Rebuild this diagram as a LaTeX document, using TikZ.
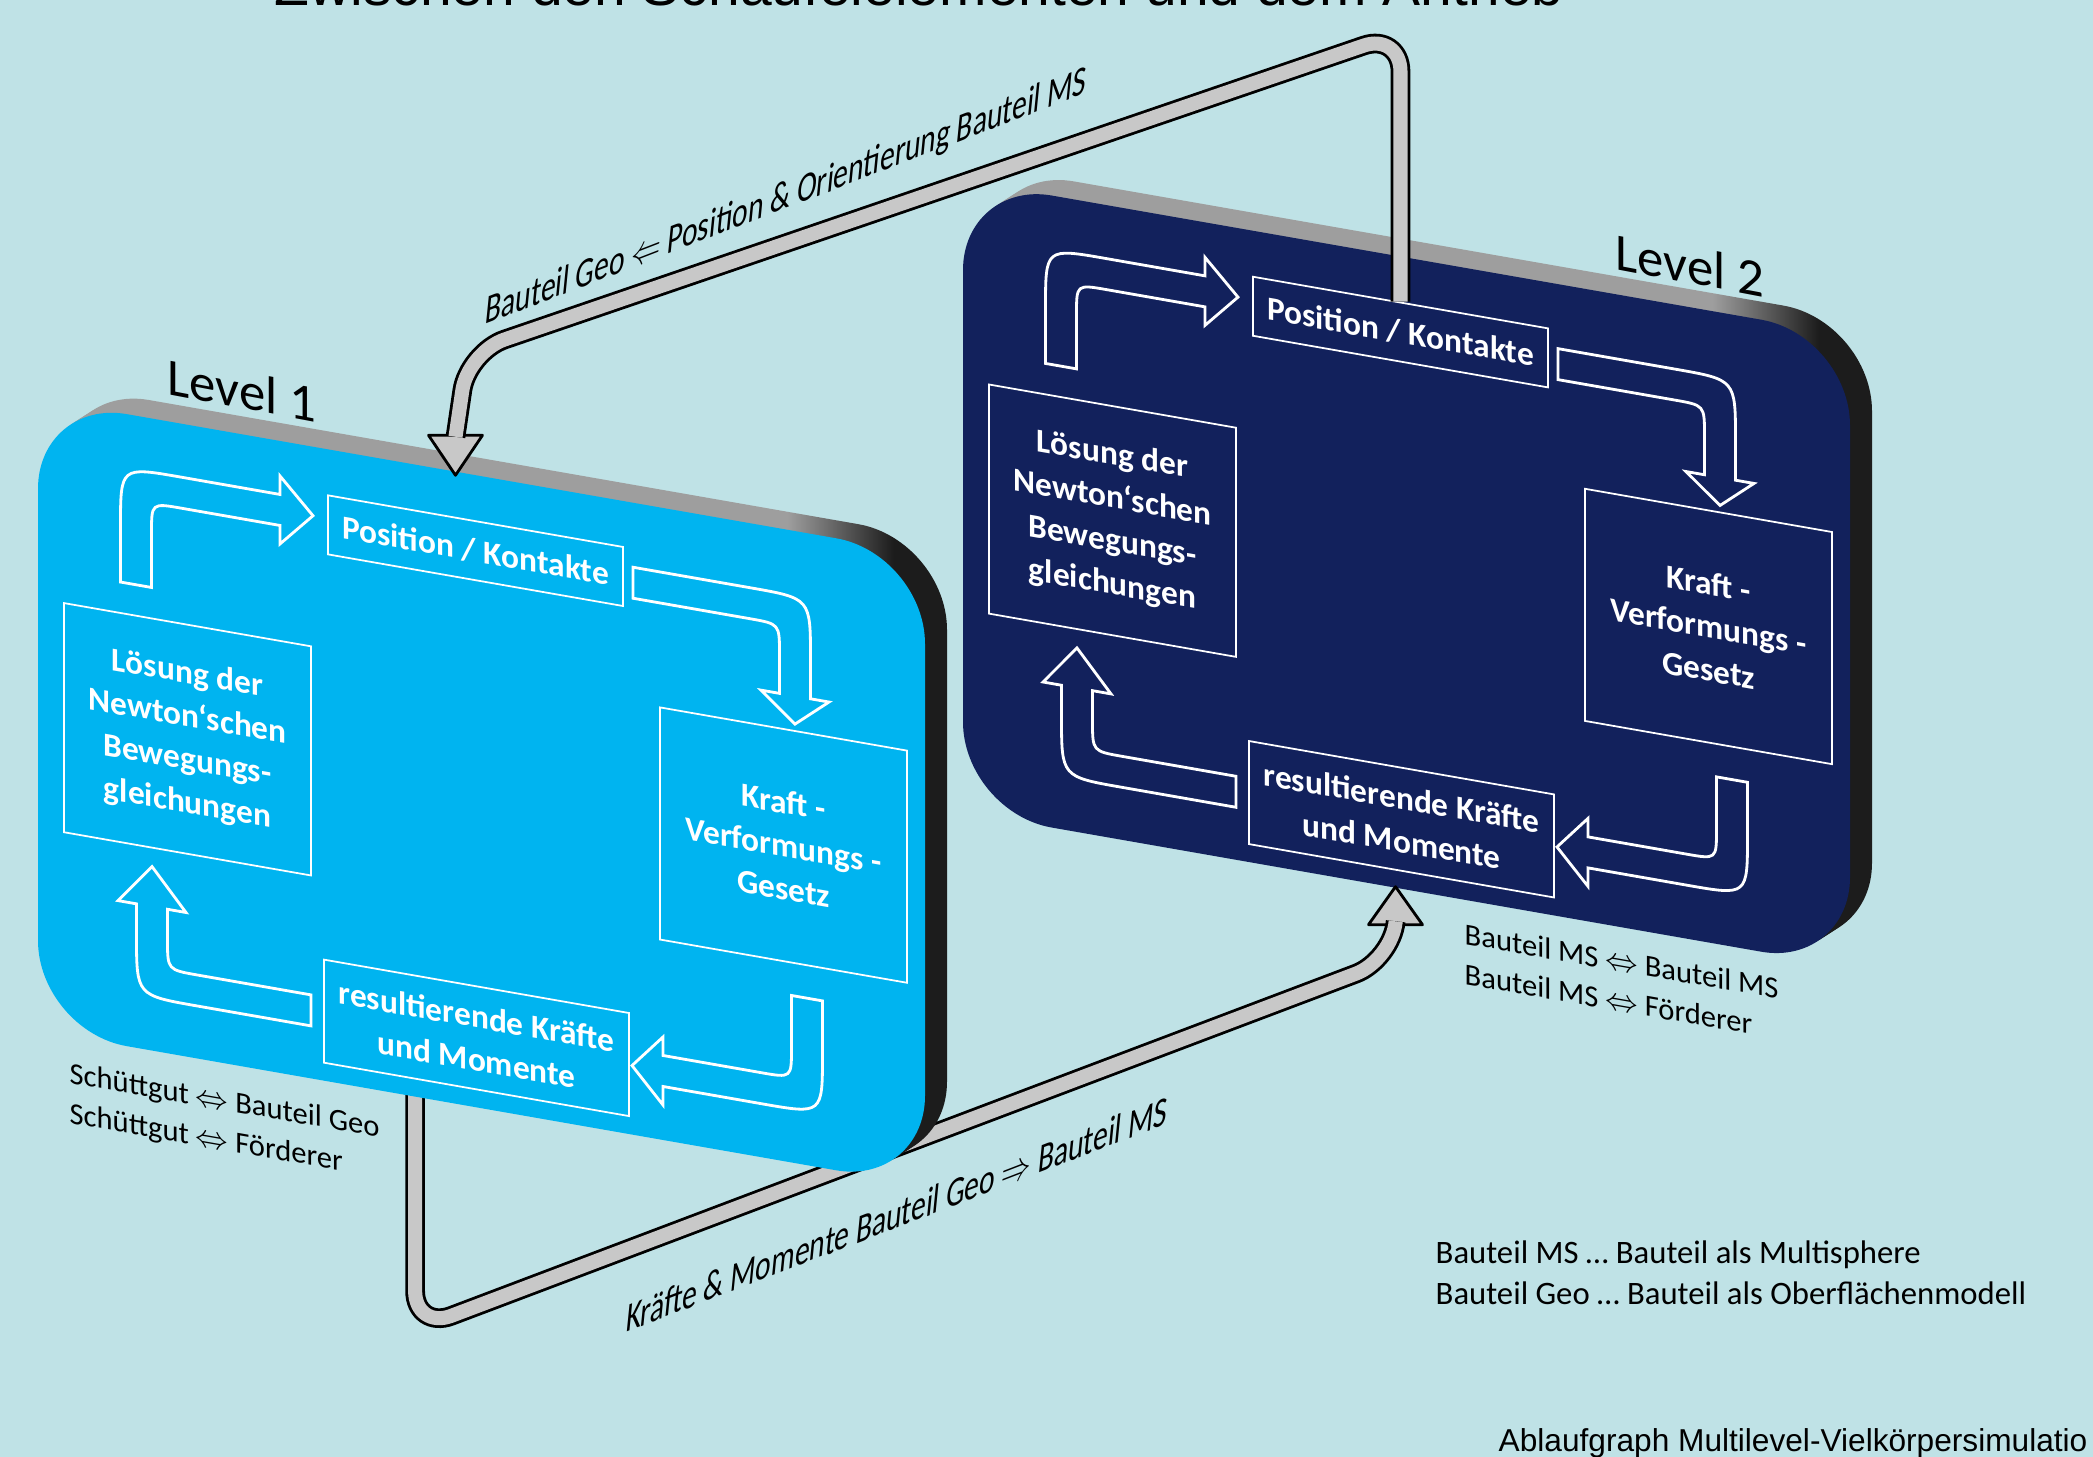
\documentclass[tikz,border=0pt]{standalone}
\usepackage{fontspec}
\setmainfont{Carlito}
\newfontfamily\arialfont{Liberation Sans}
\usepackage{tikz}
\usetikzlibrary{calc}

\definecolor{bgblue}{RGB}{191,226,230}
\definecolor{lvlone}{RGB}{0,180,240}
\definecolor{lvltwo}{RGB}{18,33,92}
\definecolor{slabgray}{RGB}{158,158,158}
\definecolor{slabdark}{RGB}{28,28,28}
\definecolor{pipegray}{RGB}{200,200,200}

\pgfdeclarehorizontalshading{slab}{100bp}{color(0bp)=(slabgray); color(66bp)=(slabgray); color(72bp)=(slabdark); color(100bp)=(slabdark)}
\pgfdeclarelayer{back}
\pgfdeclarelayer{front}
\pgfsetlayers{back,main,front}

\begin{document}
\begin{tikzpicture}[x=0.01cm, y=-0.01cm,
  box/.style={draw=white, line width=0.5pt, text=white, align=center, inner sep=0pt,
    font=\bfseries\fontsize{9.5}{12.3}\selectfont, transform shape},
  flow/.style={draw=white, line width=0.8pt},
  pipe/.style={draw=black, line width=0.8pt, double=pipegray, double distance=4pt, rounded corners=11pt},
  pipehead/.style={draw=black, line width=0.8pt, fill=pipegray, line join=round},
  pipelabel/.style={font=\fontsize{12}{14}\selectfont, inner sep=0pt, cm={0.7,0.27,0.1,1,(0,0)}},
  levellabel/.style={font=\fontsize{15}{18}\selectfont, inner sep=0pt, cm={1,-0.19,0,1,(0,0)}},
  note/.style={font=\fontsize{8.7}{11.4}\selectfont, align=left, anchor=north west, inner sep=0pt, cm={1,-0.175,0,1,(0,0)}}]

  \useasboundingbox (0,0) rectangle (2093,1457);
  \begin{pgfonlayer}{back}
    \fill[bgblue] (0,0) rectangle (2093,1457);
  \end{pgfonlayer}

  % the two levels
  \foreach \px/\py/\col/\n/\lay in {38/398.6/lvlone/1/front, 963/180/lvltwo/2/back}{
  \begin{pgfonlayer}{\lay}
  \begin{scope}[shift={(\px,\py)}, cm={1,-0.175,0,1,(0,0)}]
    \foreach \t in {0.25,0.5,0.75,1}
      \shade[shading=slab, rounded corners=0.9cm] (22*\t,-18*\t) rectangle ++(887,632);
    \fill[\col, rounded corners=0.9cm] (0,0) rectangle (887,632);

    \node[box, minimum width=2.95cm, minimum height=0.59cm] (pos\n)   at (437.5,75.5) {Position / Kontakte};
    \node[box, minimum width=2.47cm, minimum height=2.29cm] (loes\n)  at (149.5,314.5) {Lösung der\\Newton‘schen\\Bewegungs-\\gleichungen};
    \node[box, minimum width=2.47cm, minimum height=2.32cm] (kraft\n) at (745.5,316) {Kraft -\\Verformungs -\\Gesetz};
    \node[box, minimum width=3.05cm, minimum height=1.03cm] (res\n)   at (438.5,562.5) {resultierende Kräfte\\und Momente};

    \draw[flow, fill=\col] (82.5,169) -- (82.5,113.5) .. controls (82.5,53.5) .. (142.5,53.5) -- (242,53.5) -- (242,35)
      -- (275,69) -- (242,103) -- (242,84.5) -- (143.5,84.5) .. controls (113.5,84.5) .. (113.5,114.5) -- (113.5,169) -- cycle;
    \draw[flow, fill=\col] (595,64.5) -- (712.5,64.5) .. controls (772.5,64.5) .. (772.5,124.5) -- (772.5,165) -- (791,165)
      -- (757,193) -- (723,165) -- (741.5,165) -- (741.5,125.5) .. controls (741.5,95.5) .. (711.5,95.5) -- (595,95.5) -- cycle;
    \draw[flow, fill=\col] (784.5,465) -- (784.5,518.5) .. controls (784.5,578.5) .. (724.5,578.5) -- (625,578.5) -- (625,597)
      -- (594,563) -- (625,529) -- (625,547.5) -- (723.5,547.5) .. controls (753.5,547.5) .. (753.5,517.5) -- (753.5,465) -- cycle;
    \draw[flow, fill=\col] (273,579.5) -- (158.5,579.5) .. controls (98.5,579.5) .. (98.5,519.5) -- (98.5,488) -- (80,488)
      -- (114,448) -- (148,488) -- (129.5,488) -- (129.5,518.5) .. controls (129.5,548.5) .. (159.5,548.5) -- (273,548.5) -- cycle;
  \end{scope}
  \end{pgfonlayer}
  }

  \coordinate (tip1) at ($(pos1.north)+(-20,-45)$);
  \coordinate (tip2) at ($(res2.south)+(-6,15)$);

  % Level 1 -> Level 2
  \begin{pgfonlayer}{back}
    \filldraw[pipehead] (tip2) -- ++(-27,38) -- ++(54,0) -- cycle;
    \draw[pipe] ($(res1.south west)!0.3!(res1.south east)$) -- ++(0,250) -- (1392,960) -- ($(tip2)+(0,36.5)$);
  \end{pgfonlayer}

  \begin{pgfonlayer}{front}
    % Level 2 -> Level 1
    \filldraw[pipehead] (tip1) -- ++(-27,-40) -- ++(54,0) -- cycle;
    \draw[pipe] (pos2.north) -- (pos2.north |- 0,33) -- (468,352) -- ($(tip1)+(0,-38.5)$);

    \node[pipelabel] (geo) at (786,198) {Bauteil Geo $\Leftarrow$ Position \& Orientierung Bauteil MS};
    \node[pipelabel] (kraefte) at (897,1214) {Kräfte \& Momente Bauteil Geo $\Rightarrow$ Bauteil MS};

    \node[levellabel] (lvl1) at (242,390) {Level 1};
    \node[levellabel] (lvl2) at (1690,265) {Level 2};

    \node[note] (kontakt1) at (69,1061) {Schüttgut $\Leftrightarrow$ Bauteil Geo\\Schüttgut $\Leftrightarrow$ Förderer};
    \node[note] (kontakt2) at (1464,922) {Bauteil MS $\Leftrightarrow$ Bauteil MS\\Bauteil MS $\Leftrightarrow$ Förderer};

    \node[font=\fontsize{9.3}{11.6}\selectfont, align=left, anchor=north west, inner sep=0pt] (legende) at (1435,1240)
      {Bauteil MS \dots\ Bauteil als Multisphere\\Bauteil Geo \dots\ Bauteil als Oberflächenmodell};
    \node[font=\arialfont\fontsize{9}{11}\selectfont, anchor=base west, inner sep=0pt] (fuss) at (1498,1451)
      {Ablaufgraph Multilevel-Vielkörpersimulatio};

    \begin{scope}
      \clip (0,0) rectangle (2093,1457);
      \node[font=\arialfont\fontsize{16.2}{19}\selectfont, anchor=base west, inner sep=0pt] (titel) at (274,5)
        {Zwischen den Schaufelelementen und dem Antrieb};
    \end{scope}
  \end{pgfonlayer}
\end{tikzpicture}
\end{document}
